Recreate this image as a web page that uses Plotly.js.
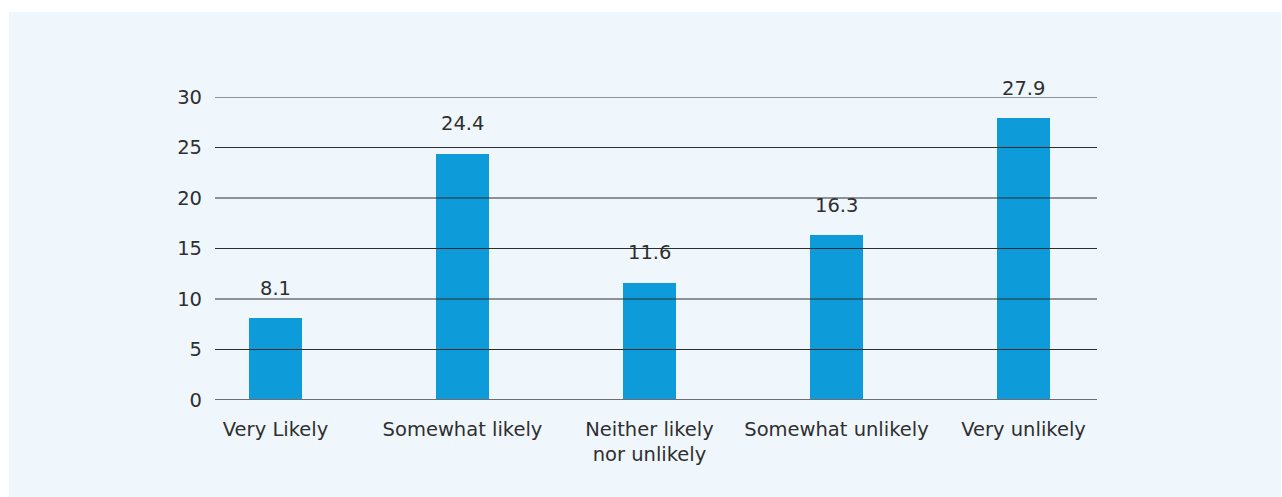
<!DOCTYPE html>
<html>
<head>
<meta charset="utf-8">
<script src="https://cdn.plot.ly/plotly-3.0.1.min.js"></script>
<style>
  html, body { margin: 0; padding: 0; background: #ffffff; }
  #chart { position: absolute; left: 9px; top: 12px; width: 1272px; height: 485px; }
</style>
</head>
<body>
<div id="chart"></div>
<script>
// Likelihood responses (%)
const categories = ['Very Likely', 'Somewhat likely', 'Neither likely<br>nor unlikely', 'Somewhat unlikely', 'Very unlikely'];
const values = [8.1, 24.4, 11.6, 16.3, 27.9];
const yTicks = [0, 5, 10, 15, 20, 25, 30];

const FONT = '"DejaVu Sans", "Open Sans", sans-serif';
const TEXT = '#2f2f2f';
const SIZE = 19.5;

const bar = {
  type: 'bar',
  x: categories,
  y: values,
  width: 0.283,
  marker: { color: '#0d9bda' },
  hoverinfo: 'x+y'
};

// Horizontal rules drawn over the bars, one per y tick
const shapes = yTicks.map(v => ({
  type: 'line', layer: 'above',
  xref: 'paper', x0: 0, x1: 1,
  yref: 'y', y0: v, y1: v,
  line: v === 0 ? { color: '#6e6e6e', width: 2 } : { color: '#2e2e2e', width: 1 }
}));

// Value labels above each bar
const annotations = values.map((v, i) => ({
  x: categories[i], y: v, xref: 'x', yref: 'y',
  text: v.toFixed(1), showarrow: false,
  yanchor: 'middle', yshift: 30,
  font: { family: FONT, size: SIZE, color: TEXT }
}));

const layout = {
  width: 1272, height: 485,
  paper_bgcolor: '#eff7fd',
  plot_bgcolor: 'rgba(0,0,0,0)',
  margin: { l: 206, r: 184, t: 85, b: 97 },
  showlegend: false,
  font: { family: FONT, size: SIZE, color: TEXT },
  xaxis: {
    type: 'category',
    range: [-0.3235, 4.393],
    showgrid: false, zeroline: false, showline: false,
    ticks: '', ticklabelstandoff: 15,
    tickfont: { family: FONT, size: SIZE, color: TEXT }
  },
  yaxis: {
    range: [0, 30],
    tickvals: yTicks,
    showgrid: false, zeroline: false, showline: false,
    ticks: '', ticklabelstandoff: 12,
    tickfont: { family: FONT, size: SIZE, color: TEXT }
  },
  shapes: shapes,
  annotations: annotations,
  bargap: 0
};

Plotly.newPlot('chart', [bar], layout, { displayModeBar: false, staticPlot: true });
</script>
</body>
</html>
